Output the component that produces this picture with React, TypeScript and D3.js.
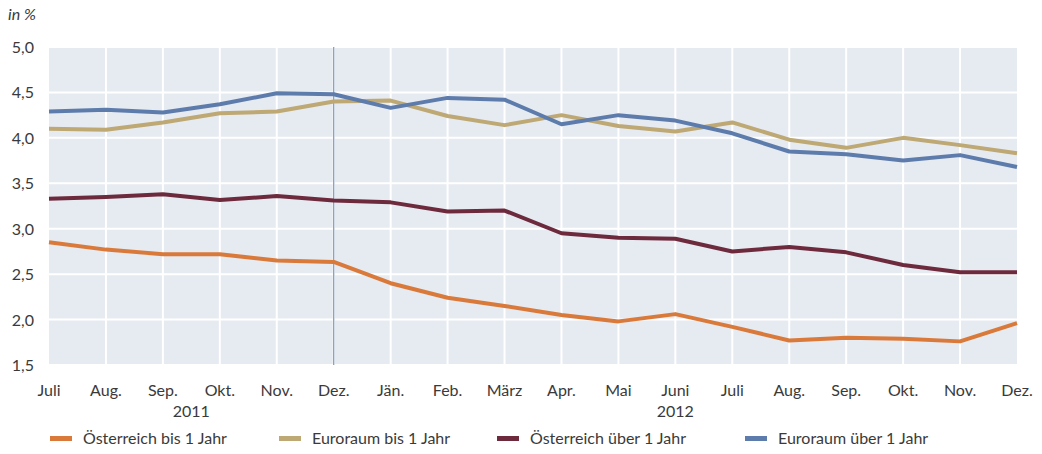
import React, { useEffect, useRef } from 'react';
import * as d3 from 'd3';

const months = ['Juli', 'Aug.', 'Sep.', 'Okt.', 'Nov.', 'Dez.', 'Jän.', 'Feb.', 'März', 'Apr.', 'Mai', 'Juni', 'Juli', 'Aug.', 'Sep.', 'Okt.', 'Nov.', 'Dez.'];
const yTicks = [1.5, 2.0, 2.5, 3.0, 3.5, 4.0, 4.5, 5.0];
const years = [{ label: '2011', at: 2.5 }, { label: '2012', at: 11 }];

const atBis1 = [2.85, 2.77, 2.72, 2.72, 2.65, 2.635, 2.40, 2.24, 2.15, 2.05, 1.98, 2.06, 1.92, 1.77, 1.80, 1.79, 1.76, 1.96];
const euBis1 = [4.10, 4.09, 4.17, 4.27, 4.29, 4.40, 4.41, 4.24, 4.14, 4.25, 4.13, 4.07, 4.17, 3.98, 3.89, 4.00, 3.92, 3.83];
const atUeber1 = [3.33, 3.35, 3.38, 3.315, 3.36, 3.31, 3.29, 3.19, 3.20, 2.95, 2.90, 2.89, 2.75, 2.80, 2.74, 2.60, 2.52, 2.52];
const euUeber1 = [4.29, 4.31, 4.28, 4.37, 4.49, 4.48, 4.33, 4.44, 4.42, 4.15, 4.25, 4.19, 4.05, 3.85, 3.82, 3.75, 3.81, 3.68];

const seriesNames = ['Österreich bis 1 Jahr', 'Euroraum bis 1 Jahr', 'Österreich über 1 Jahr', 'Euroraum über 1 Jahr'];
const seriesValues = [atBis1, euBis1, atUeber1, euUeber1];
const colors = ['#d97a3b', '#bea874', '#6d2a3d', '#5d7cac'];

const App = () => {
  const svgRef = useRef<SVGSVGElement>(null);

  useEffect(() => {
    const svg = d3.select(svgRef.current);
    svg.selectAll('*').remove();

    const width = 1042;
    const height = 454;
    const margin = { top: 47, right: 25, bottom: 89, left: 49 };
    const font = 'Lato, "Open Sans", sans-serif';
    const textColor = '#3a3a3a';

    const x = d3.scaleLinear()
      .domain([0, months.length - 1])
      .range([margin.left, width - margin.right]);

    const y = d3.scaleLinear()
      .domain([1.5, 5.0])
      .range([height - margin.bottom, margin.top]);

    // plot background
    svg.append('rect')
      .attr('x', x(0))
      .attr('y', y(5))
      .attr('width', x(months.length - 1) - x(0))
      .attr('height', y(1.5) - y(5))
      .attr('fill', '#e6eaf1');

    // gridlines
    svg.append('g')
      .selectAll('line')
      .data(yTicks)
      .join('line')
      .attr('x1', x(0))
      .attr('x2', x(months.length - 1))
      .attr('y1', d => y(d))
      .attr('y2', d => y(d))
      .attr('stroke', '#fff')
      .attr('stroke-width', 2);

    svg.append('g')
      .selectAll('line')
      .data(months.map((_, i) => i).slice(1, -1))
      .join('line')
      .attr('x1', d => x(d))
      .attr('x2', d => x(d))
      .attr('y1', y(5))
      .attr('y2', y(1.5))
      .attr('stroke', '#fff')
      .attr('stroke-width', 2);

    // year separator
    svg.append('line')
      .attr('x1', x(5))
      .attr('x2', x(5))
      .attr('y1', y(5))
      .attr('y2', y(1.5))
      .attr('stroke', '#7d97bd')
      .attr('stroke-width', 1.2);

    // y tick labels
    svg.append('g')
      .selectAll('text')
      .data(yTicks)
      .join('text')
      .attr('x', 34)
      .attr('y', d => y(d) + 6)
      .attr('text-anchor', 'end')
      .attr('fill', textColor)
      .style('font-family', font)
      .style('font-size', '16px')
      .text(d => d3.format('.1f')(d).replace('.', ','));

    svg.append('text')
      .attr('x', 8)
      .attr('y', 20)
      .attr('fill', textColor)
      .style('font-family', font)
      .style('font-size', '16px')
      .style('font-style', 'italic')
      .text('in %');

    // x tick labels
    svg.append('g')
      .selectAll('text')
      .data(months)
      .join('text')
      .attr('x', (_, i) => x(i))
      .attr('y', 396)
      .attr('text-anchor', 'middle')
      .attr('fill', textColor)
      .style('font-family', font)
      .style('font-size', '16px')
      .text(d => d);

    svg.append('g')
      .selectAll('text')
      .data(years)
      .join('text')
      .attr('x', d => x(d.at))
      .attr('y', 417)
      .attr('text-anchor', 'middle')
      .attr('fill', textColor)
      .style('font-family', font)
      .style('font-size', '16px')
      .text(d => d.label);

    // lines
    const line = d3.line<number>()
      .x((_, i) => x(i))
      .y(d => y(d));

    svg.append('g')
      .selectAll('path')
      .data(seriesValues)
      .join('path')
      .attr('d', d => line(d))
      .attr('fill', 'none')
      .attr('stroke', (_, i) => colors[i])
      .attr('stroke-width', 4)
      .attr('stroke-linejoin', 'round');

    // legend
    const legendX = [50, 279, 497, 745];
    const legend = svg.append('g')
      .selectAll('g')
      .data(seriesNames)
      .join('g')
      .attr('transform', (_, i) => `translate(${legendX[i]},438)`);

    legend.append('rect')
      .attr('x', 0)
      .attr('y', -2)
      .attr('width', 22)
      .attr('height', 5)
      .attr('fill', (_, i) => colors[i]);

    legend.append('text')
      .attr('x', 33)
      .attr('y', 6)
      .attr('fill', textColor)
      .style('font-family', font)
      .style('font-size', '16px')
      .text(d => d);
  }, []);

  return <svg ref={svgRef} width="1042" height="454" style={{ display: 'block', position: 'absolute', left: 0, top: 0 }}></svg>;
};

export default App;
